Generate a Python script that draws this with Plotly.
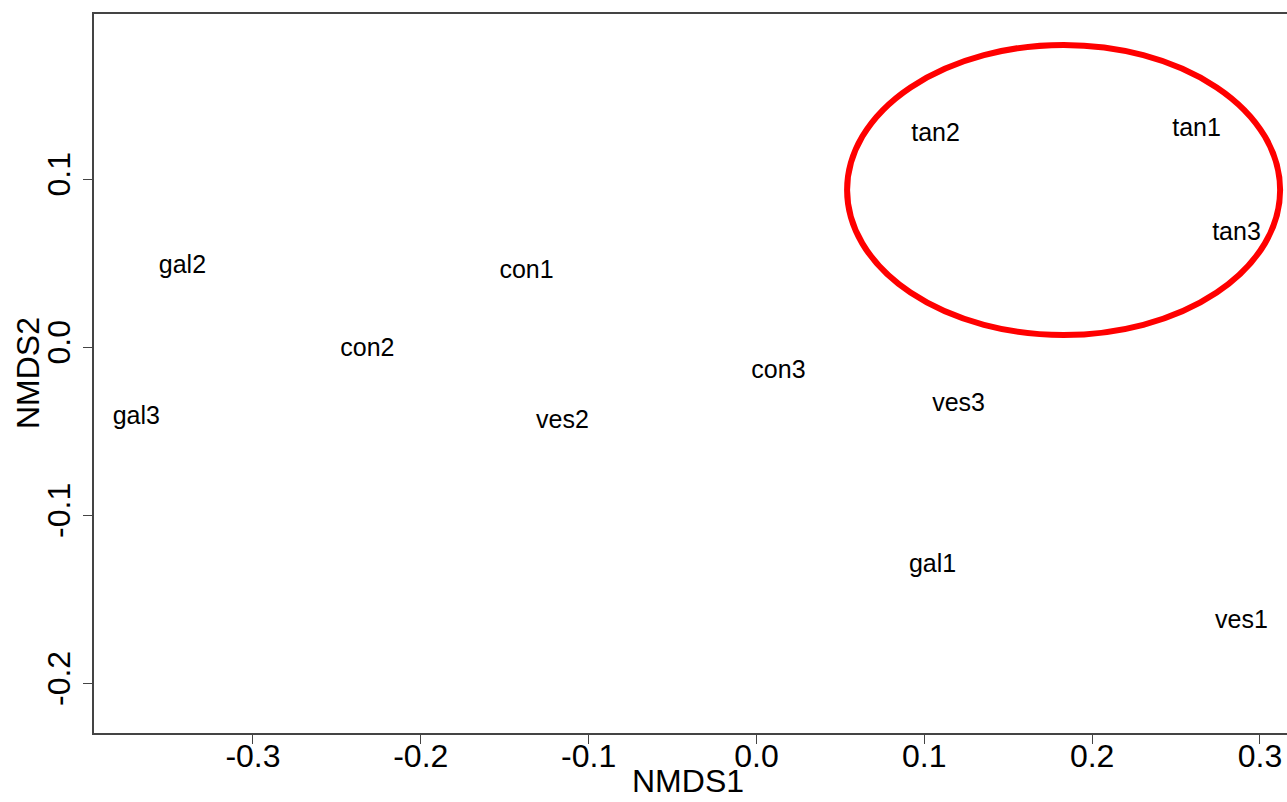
import plotly.graph_objects as go

# NMDS site scores
sites = ["gal2", "gal3", "con1", "con2", "ves2", "con3", "ves3", "gal1", "ves1", "tan2", "tan1", "tan3"]
nmds1 = [-0.342, -0.3695, -0.137, -0.2318, -0.1156, 0.0131, 0.1204, 0.1049, 0.289, 0.1067, 0.2622, 0.286]
nmds2 = [0.0476, -0.0423, 0.0446, -0.0018, -0.0446, -0.0149, -0.0345, -0.1298, -0.1637, 0.1262, 0.1292, 0.0673]

# ellipse around the tan group: centre and radii in data units
ell_center = (0.183, 0.0935)
ell_radii = (0.129, 0.0863)

x_ticks = [-0.3, -0.2, -0.1, 0.0, 0.1, 0.2, 0.3]
y_ticks = [-0.2, -0.1, 0.0, 0.1]

FONT = "Liberation Sans, Arial, sans-serif"
AXIS_COLOR = "#444444"

fig = go.Figure()
fig.add_trace(go.Scatter(
    x=nmds1, y=nmds2, text=sites, mode="text",
    textfont=dict(family=FONT, size=25, color="black"),
    textposition="middle center", hoverinfo="text", showlegend=False,
))

fig.add_shape(
    type="circle", xref="x", yref="y",
    x0=ell_center[0] - ell_radii[0], x1=ell_center[0] + ell_radii[0],
    y0=ell_center[1] - ell_radii[1], y1=ell_center[1] + ell_radii[1],
    line=dict(color="#ff0000", width=6),
)

# axis titles placed as annotations so they sit clear of the tick labels
fig.add_annotation(
    text="NMDS1", xref="paper", yref="paper", x=0.4979, y=-0.0932,
    xanchor="center", yanchor="bottom", showarrow=False, borderpad=0,
    font=dict(size=32, family=FONT, color="black"),
)
fig.add_annotation(
    text="NMDS2", xref="paper", yref="paper", x=-0.0553, y=0.5007,
    xanchor="center", yanchor="middle", showarrow=False, textangle=-90,
    font=dict(size=32, family=FONT, color="black"),
)

fig.update_layout(
    width=1287, height=802,
    margin=dict(l=94, r=0, t=14, b=69),
    paper_bgcolor="white", plot_bgcolor="white",
    font=dict(family=FONT, color="black"),
)

fig.update_xaxes(
    range=[-0.3947, 0.3161], tickvals=x_ticks,
    ticktext=[f"{v:.1f}" for v in x_ticks],
    showgrid=False, zeroline=False, automargin=False,
    showline=True, linecolor=AXIS_COLOR, linewidth=1.5, mirror=True,
    ticks="outside", ticklen=9, tickwidth=1, tickcolor=AXIS_COLOR,
    ticklabelstandoff=-15,
    tickfont=dict(size=32, family=FONT, color="black"),
)
fig.update_yaxes(
    range=[-0.2296, 0.1982], tickvals=y_ticks,
    ticktext=[f"{v:.1f}" for v in y_ticks],
    showgrid=False, zeroline=False, automargin=False,
    showline=True, linecolor=AXIS_COLOR, linewidth=1.5,
    ticks="outside", ticklen=9, tickwidth=1, tickcolor=AXIS_COLOR,
    tickangle=-90,
    tickfont=dict(size=32, family=FONT, color="black"),
)

fig.write_html("out.html")
